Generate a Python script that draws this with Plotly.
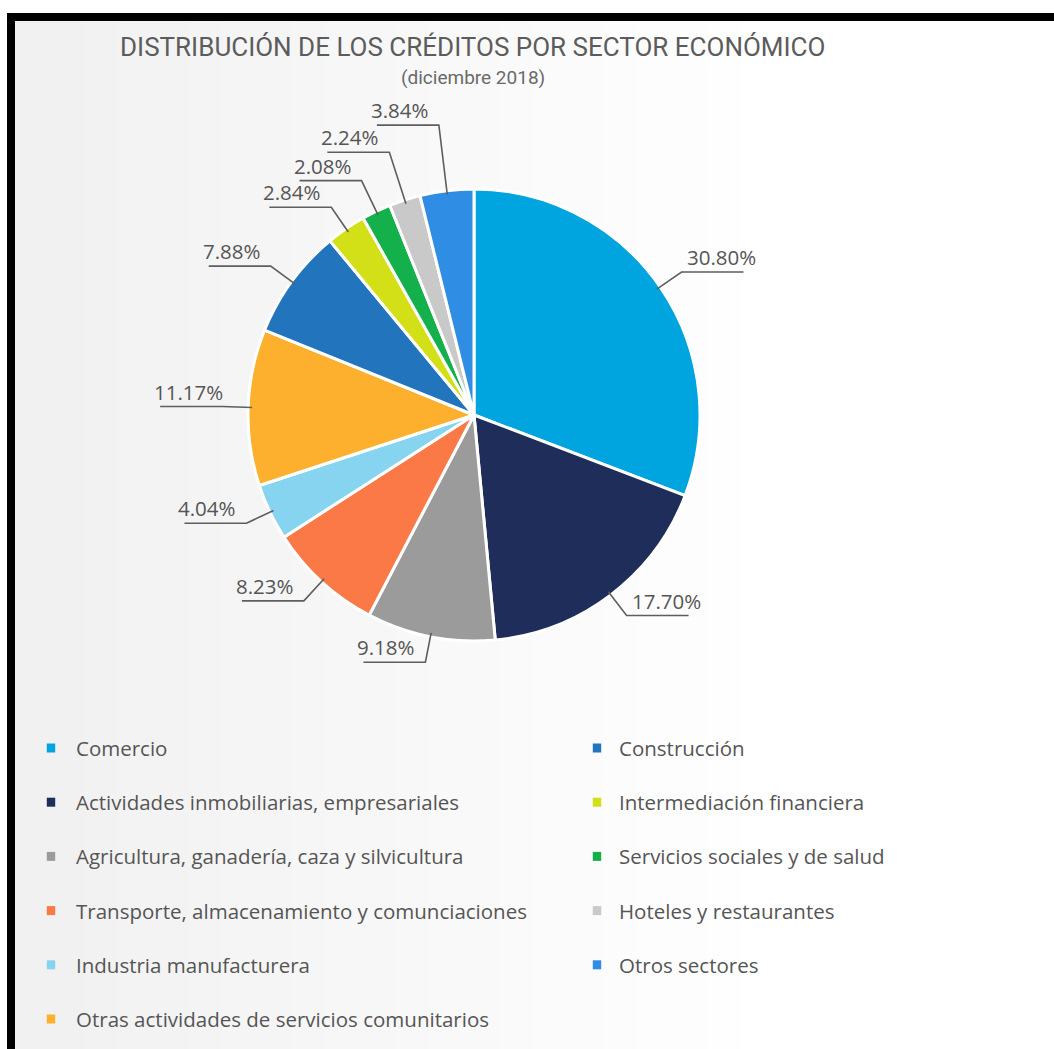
import numpy as np
import plotly.graph_objects as go

# Sector shares of the credit portfolio, December 2018 (%)
sectores = [
    "Comercio",
    "Actividades inmobiliarias, empresariales",
    "Agricultura, ganadería, caza y silvicultura",
    "Transporte, almacenamiento y comunciaciones",
    "Industria manufacturera",
    "Otras actividades de servicios comunitarios",
    "Construcción",
    "Intermediación financiera",
    "Servicios sociales y de salud",
    "Hoteles y restaurantes",
    "Otros sectores",
]
porcentajes = [30.80, 17.70, 9.18, 8.23, 4.04, 11.17, 7.88, 2.84, 2.08, 2.24, 3.84]
colores = [
    "#00a5df", "#1e2d5a", "#9b9b9b", "#fb7946", "#86d4ef", "#fcb02e",
    "#2275bd", "#d3df17", "#13b04b", "#c9c9c9", "#2f8de4",
]

W, H = 1054, 1049
CX, CY, R = 474, 415, 226   # pie centre and radius in pixels
TXT = "#555555"


def px(x):
    return x / W


def py(y):
    return 1 - y / H


fig = go.Figure()
fig.add_trace(go.Pie(
    labels=sectores,
    values=porcentajes,
    sort=False,
    direction="clockwise",
    rotation=0,
    marker=dict(colors=colores, line=dict(color="white", width=3)),
    textinfo="none",
    hoverinfo="label+percent",
    showlegend=False,
    domain=dict(x=[px(CX - R), px(CX + R)], y=[py(CY + R), py(CY - R)]),
))

shapes = []
annotations = []

# soft grey-to-white background inside the frame
n_bands = 30
x0_bg = 15
for i in range(n_bands):
    xa = x0_bg + (W - x0_bg) * i / n_bands
    xb = x0_bg + (W - x0_bg) * (i + 1) / n_bands + 1
    g = int(241 + (255 - 241) * min(1, i / (n_bands * 0.7)))
    shapes.append(dict(type="rect", xref="paper", yref="paper", layer="below",
                       x0=px(xa), x1=px(xb), y0=0, y1=py(21),
                       fillcolor=f"rgb({g},{g},{g})", line=dict(width=0)))

# black frame (top and left edges)
shapes.append(dict(type="rect", xref="paper", yref="paper", layer="above",
                   x0=px(7), x1=1, y0=py(21), y1=py(13),
                   fillcolor="black", line=dict(width=0)))
shapes.append(dict(type="rect", xref="paper", yref="paper", layer="above",
                   x0=px(7), x1=px(15), y0=0, y1=py(13),
                   fillcolor="black", line=dict(width=0)))

# outside labels with leader lines and underline
fsize = 20.5
total = sum(porcentajes)
cum = np.cumsum([0] + porcentajes[:-1])
placed = []
underline = 62


def overlaps(box, others, pad=3):
    for o in others:
        if not (box[2] + pad < o[0] or o[2] + pad < box[0] or
                box[3] + pad < o[1] or o[3] + pad < box[1]):
            return True
    return False


for start, val in zip(cum, porcentajes):
    ang = np.deg2rad((start + val / 2) / total * 360)
    ux, uy = np.sin(ang), -np.cos(ang)
    label = f"{val:.2f}%"
    tw = 0.62 * fsize * len(label)
    lead = 26
    while True:
        bx, by = CX + (R + lead) * ux, CY + (R + lead) * uy
        if ux >= 0:
            ex = bx + underline
            tx0 = bx + 3
        else:
            ex = bx - underline
            tx0 = bx - underline - 8
        box = (tx0, by - fsize - 2, tx0 + tw, by)
        if not overlaps(box, placed) or lead > 120:
            break
        lead += 4
    placed.append(box)
    ax, ay = CX + (R - 4) * ux, CY + (R - 4) * uy
    shapes.append(dict(type="path", xref="paper", yref="paper", layer="above",
                       path=f"M {px(ax)},{py(ay)} L {px(bx)},{py(by)} L {px(ex)},{py(by)}",
                       line=dict(color="#5e5e5e", width=1.6)))
    annotations.append(dict(x=px(tx0), y=py(by + 1), xref="paper", yref="paper",
                            text=label, showarrow=False, xanchor="left", yanchor="bottom",
                            font=dict(family="Open Sans", size=fsize, color=TXT)))

# title and subtitle
annotations.append(dict(x=px(472), y=py(47), xref="paper", yref="paper",
                        text="DISTRIBUCIÓN DE LOS CRÉDITOS POR SECTOR ECONÓMICO",
                        showarrow=False, xanchor="center", yanchor="middle",
                        font=dict(family="Roboto", size=26, color="#5c5c5c")))
annotations.append(dict(x=px(473), y=py(78), xref="paper", yref="paper",
                        text="(diciembre 2018)", showarrow=False,
                        xanchor="center", yanchor="middle",
                        font=dict(family="Roboto", size=19, color="#6a6a6a")))

# two-column legend
rows_first = 6
row_y0, row_dy = 748, 54.2
col_marker = [51, 597]
col_text = [74, 617]
for i, (name, col) in enumerate(zip(sectores, colores)):
    c = 0 if i < rows_first else 1
    r = i if i < rows_first else i - rows_first
    yc = row_y0 + r * row_dy
    mx = col_marker[c]
    shapes.append(dict(type="rect", xref="paper", yref="paper", layer="above",
                       x0=px(mx - 4.2), x1=px(mx + 4.2), y0=py(yc + 4.5), y1=py(yc - 4.5),
                       fillcolor=col, line=dict(width=0)))
    annotations.append(dict(x=px(col_text[c]), y=py(yc), xref="paper", yref="paper",
                            text=name, showarrow=False, xanchor="left", yanchor="middle",
                            font=dict(family="Open Sans", size=20.5, color=TXT)))

fig.update_layout(
    width=W, height=H,
    margin=dict(l=0, r=0, t=0, b=0),
    paper_bgcolor="white",
    plot_bgcolor="white",
    shapes=shapes,
    annotations=annotations,
    showlegend=False,
)

fig.write_html("out.html")
